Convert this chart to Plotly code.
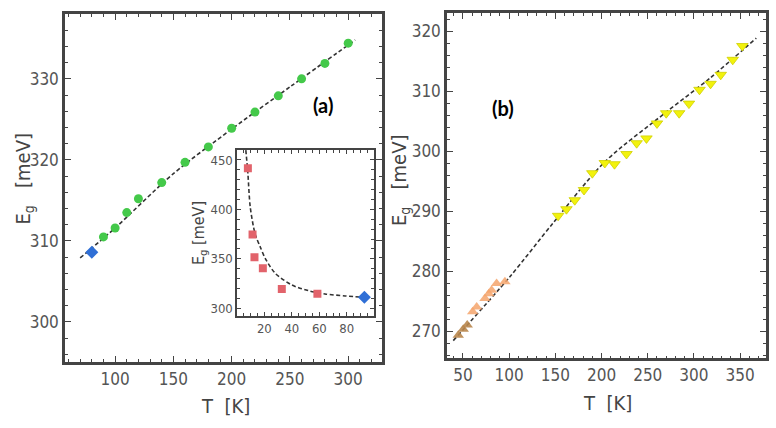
import plotly.graph_objects as go

# ---------------- data ----------------
# panel (a): main
a_green_T = [90, 100, 110, 120, 140, 160, 180, 200, 220, 240, 260, 280, 300]
a_green_E = [310.5, 311.6, 313.5, 315.2, 317.2, 319.7, 321.6, 323.9, 325.9, 327.9, 330.0, 331.9, 334.4]
a_blue_T = [80]
a_blue_E = [308.6]
a_fit_T = [70, 100, 150, 200, 250, 306]
a_fit_E = [307.9, 311.6, 318.3, 323.8, 329.0, 334.8]

# panel (a): inset
in_red_T = [8.0, 11.4, 12.8, 18.9, 32.7, 58.6]
in_red_E = [441.6, 374.7, 351.6, 340.4, 319.5, 314.8]
in_blue_T = [92.8]
in_blue_E = [311.1]
in_fit_T = [6.5, 8.0, 9.7, 13.3, 16.9, 20.6, 27.9, 40.0, 52.1, 64.2, 78.8, 92.8]
in_fit_E = [460, 436.5, 402.7, 375, 362.4, 350.6, 335.4, 323.6, 317.8, 314.5, 312.5, 311.1]

# panel (b)
b_yellow_T = [153, 162, 171, 181, 190, 203.5, 214, 227, 238, 248.6, 260, 270, 284, 294.6, 306, 318, 329, 342, 352.4]
b_yellow_E = [289.2, 290.3, 291.8, 293.5, 296.3, 298.0, 297.8, 299.5, 301.3, 302.1, 304.6, 306.3, 306.3, 307.9, 310.2, 311.2, 312.7, 315.2, 317.5]
b_orange_T = [60.5, 64.8, 73.8, 78, 81, 86.4, 95.4]
b_orange_E = [273.2, 274.0, 275.4, 276.2, 276.8, 277.9, 278.2]
b_brown_T = [44.9, 50.3, 54.6]
b_brown_E = [269.3, 270.3, 271.0]
b_fit_T = [39.5, 100.8, 147.6, 203.5, 270.2, 317, 367.5]
b_fit_E = [268.4, 279.05, 288.0, 298.2, 306.5, 312.1, 318.8]

a_xticks = [100, 150, 200, 250, 300]
a_yticks = [300, 310, 320, 330]
in_xticks = [0, 20, 40, 60, 80]
in_yticks = [300, 350, 400, 450]
b_xticks = [50, 100, 150, 200, 250, 300, 350]
b_yticks = [270, 280, 290, 300, 310, 320]

# ---------------- styling ----------------
W, H = 776, 428
FRAME = "#444444"
TICKC = "#555555"
NARROW = "DejaVu Sans Condensed, Liberation Sans Narrow, Liberation Sans, Arial, sans-serif"
DASH = "4px,2.5px"

fig = go.Figure()

def line(x, y, xa, ya):
    fig.add_trace(go.Scatter(x=x, y=y, xaxis=xa, yaxis=ya, mode="lines",
                             line=dict(color="#333333", width=1.6, dash=DASH, shape="spline", smoothing=0.8),
                             hoverinfo="skip", showlegend=False))

def pts(x, y, xa, ya, symbol, color, size, lc=None, op=1.0):
    fig.add_trace(go.Scatter(x=x, y=y, xaxis=xa, yaxis=ya, mode="markers",
                             marker=dict(symbol=symbol, color=color, size=size, opacity=op,
                                         line=dict(width=0.8 if lc else 0, color=lc or color)),
                             showlegend=False))

# panel (a)
line(a_fit_T, a_fit_E, "x", "y")
pts(a_green_T, a_green_E, "x", "y", "circle", "#44C94A", 9)
pts(a_blue_T, a_blue_E, "x", "y", "diamond", "#2F6FD6", 10)

# inset
line(in_fit_T, in_fit_E, "x3", "y3")
pts(in_red_T, in_red_E, "x3", "y3", "square", "#E2636B", 8)
pts(in_blue_T, in_blue_E, "x3", "y3", "diamond", "#2F6FD6", 10)

# panel (b)
line(b_fit_T, b_fit_E, "x2", "y2")
pts(b_yellow_T, b_yellow_E, "x2", "y2", "triangle-down", "#F2F20C", 10, lc="#CFCF00")
pts(b_orange_T, b_orange_E, "x2", "y2", "triangle-up", "#F4A46C", 10, op=0.85)
pts(b_brown_T, b_brown_E, "x2", "y2", "triangle-up", "#B8864C", 10, op=0.9)

def ax(domain, rng, tickvals, minor_dtick, anchor, fs, ticklen=6):
    return dict(domain=domain, range=rng, anchor=anchor, tickvals=tickvals,
                ticks="inside", ticklen=ticklen, tickwidth=1, tickcolor=FRAME,
                minor=dict(ticks="inside", ticklen=3, dtick=minor_dtick, tickcolor=FRAME, tickwidth=1),
                showline=True, linecolor=FRAME, linewidth=2.5, mirror="allticks",
                showgrid=False, zeroline=False, ticklabelstandoff=0,
                tickfont=dict(family=NARROW, size=fs, color=TICKC))

layout = dict(
    width=W, height=H, margin=dict(l=0, r=0, t=0, b=0),
    paper_bgcolor="white", plot_bgcolor="white",
    xaxis=ax([65/W, 382/W], [57, 329], a_xticks, 10, "y", 17),
    yaxis=ax([1-361.7/H, 1-14/H], [295.1, 338.0], a_yticks, 2, "x", 17),
    xaxis2=ax([447/W, 766/W], [32.7, 378], b_xticks, 10, "y2", 17),
    yaxis2=ax([1-358.3/H, 1-13.3/H], [265.45, 322.95], b_yticks, 2, "x2", 17),
    xaxis3=ax([237.3/W, 374/W], [0.3, 99.8], in_xticks, 5, "y3", 13, 4),
    yaxis3=ax([1-315.7/H, 1-150/H], [292.5, 460.1], in_yticks, 10, "x3", 13, 4),
)
layout["xaxis3"]["linewidth"] = 1.8
layout["yaxis3"]["linewidth"] = 1.8
fig.update_layout(**layout)

TITLEF = dict(family=NARROW, size=20, color="#444444")
ann = [
    dict(x=23/W, y=1-179.5/H, text="E<sub>g</sub>   [meV]", textangle=-90, font=TITLEF),
    dict(x=225/W, y=1-406/H, text="T  [K]", font=TITLEF),
    dict(x=400/W, y=1-180/H, text="E<sub>g</sub>   [meV]", textangle=-90, font=TITLEF),
    dict(x=607/W, y=1-403/H, text="T  [K]", font=TITLEF),
    dict(x=199/W, y=1-233/H, text="E<sub>g</sub> [meV]", textangle=-90,
         font=dict(family=NARROW, size=16, color="#444444")),
    dict(x=323/W, y=1-105/H, text="<b>(a)</b>", font=dict(family="Lato, Open Sans, sans-serif", size=20, color="black")),
    dict(x=503/W, y=1-108/H, text="<b>(b)</b>", font=dict(family="Lato, Open Sans, sans-serif", size=20, color="black")),
]
for a in ann:
    a.update(xref="paper", yref="paper", showarrow=False, xanchor="center", yanchor="middle")
fig.update_layout(annotations=ann)

fig.write_html("out.html")
